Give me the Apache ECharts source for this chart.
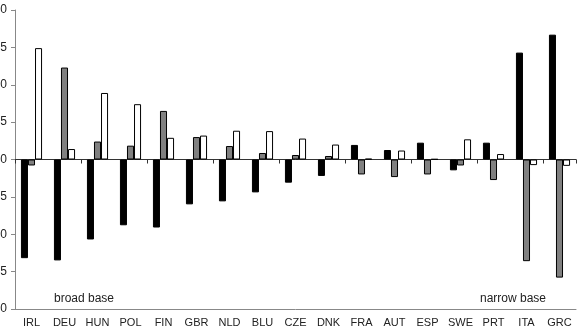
<!DOCTYPE html>
<html>
<head>
<meta charset="utf-8">
<script src="https://cdn.jsdelivr.net/npm/echarts@6/dist/echarts.min.js"></script>
<style>
  html, body { margin: 0; padding: 0; background: #fff; }
  #chart { width: 577px; height: 329px; }
</style>
</head>
<body>
<div id="chart"></div>
<script>
const countries = ['IRL', 'DEU', 'HUN', 'POL', 'FIN', 'GBR', 'NLD', 'BLU', 'CZE', 'DNK', 'FRA', 'AUT', 'ESP', 'SWE', 'PRT', 'ITA', 'GRC'];
const blackSeries = [-13.2, -13.5, -10.7, -8.8, -9.1, -6.0, -5.6, -4.4, -3.1, -2.2, 1.95, 1.27, 2.25, -1.45, 2.25, 14.3, 16.7];
const graySeries = [-0.8, 12.3, 2.4, 1.85, 6.5, 3.0, 1.8, 0.87, 0.6, 0.47, -2.0, -2.35, -2.0, -0.8, -2.75, -13.6, -15.8];
const whiteSeries = [14.9, 1.4, 8.9, 7.4, 2.9, 3.2, 3.85, 3.8, 2.8, 2.0, 0.1, 1.2, 0.05, 2.7, 0.73, -0.75, -0.85];
const yTicks = { min: -20, max: 20, step: 5 };

const chart = echarts.init(document.getElementById('chart'));

const barStyle = (fill) => ({ color: fill, borderColor: '#000', borderWidth: 1 });
const font = 'Liberation Sans, Arial, sans-serif';

chart.setOption({
  animation: false,
  textStyle: { fontFamily: font },
  grid: { left: 15, right: 1, top: 10, bottom: 20, containLabel: false, outerBoundsMode: 'none' },
  xAxis: [
    {
      type: 'category',
      data: countries,
      position: 'bottom',
      axisLine: { onZero: false, lineStyle: { color: '#888', width: 1 } },
      axisTick: { show: false },
      axisLabel: { color: '#222', fontSize: 11, margin: 8, interval: 0 },
    },
    {
      // zero line with ticks between categories
      type: 'category',
      data: countries,
      position: 'bottom',
      axisLine: { onZero: true, lineStyle: { color: '#333', width: 1 } },
      axisTick: { show: true, length: 4, lineStyle: { color: '#333' } },
      axisLabel: { show: false },
    },
  ],
  yAxis: {
    type: 'value',
    min: yTicks.min,
    max: yTicks.max,
    interval: yTicks.step,
    axisLine: { show: true, lineStyle: { color: '#888' } },
    axisTick: { show: true, length: 4, lineStyle: { color: '#888' } },
    axisLabel: { color: '#222', fontSize: 12, margin: 8 },
    splitLine: { show: false },
  },
  series: [
    { name: 'black', type: 'bar', data: blackSeries, barGap: '0%', barCategoryGap: '36%', itemStyle: barStyle('#000') },
    { name: 'gray', type: 'bar', data: graySeries, barGap: '0%', barCategoryGap: '36%', itemStyle: barStyle('#808080') },
    { name: 'white', type: 'bar', data: whiteSeries, barGap: '0%', barCategoryGap: '36%', itemStyle: barStyle('#fff') },
  ],
  graphic: [
    { type: 'text', left: 54, top: 293, style: { text: 'broad base', fontSize: 12, fill: '#222', fontFamily: font } },
    { type: 'text', left: 480, top: 293, style: { text: 'narrow base', fontSize: 12, fill: '#222', fontFamily: font } },
  ],
});
</script>
</body>
</html>
